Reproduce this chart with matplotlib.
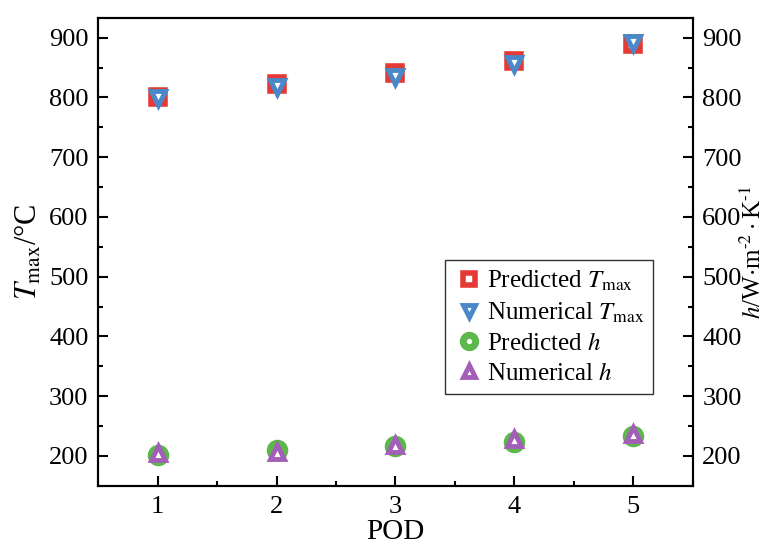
import matplotlib
matplotlib.use('Agg')
import matplotlib.pyplot as plt
from matplotlib.ticker import MultipleLocator

plt.rcParams.update({
    'font.family': 'serif',
    'font.serif': ['Liberation Serif', 'DejaVu Serif'],
    'mathtext.fontset': 'stix',
    'font.size': 19,
})

pod = [1, 2, 3, 4, 5]
t_pred = [800, 822, 841, 861, 890]
t_num = [799, 817, 835, 856, 891]
h_pred = [202, 210, 217, 224, 234]
h_num = [205, 206, 218, 229, 236]

fig, ax = plt.subplots(figsize=(7.67, 5.44), dpi=100)
fig.subplots_adjust(left=0.128, right=0.903, top=0.967, bottom=0.107)

ms, mew = 9.5, 4
ax.plot(pod, t_pred, 's', ms=ms, mew=mew, mfc='white', mec='#e53935',
        label=r'Predicted $T_{\rm max}$')
ax.plot(pod, t_num, 'v', ms=ms, mew=mew - 0.5, mfc='white', mec='#4a88c7',
        label=r'Numerical $T_{\rm max}$')
ax.plot(pod, h_pred, 'o', ms=ms + 1, mew=mew + 1, mfc='white', mec='#5cb84a',
        label=r'Predicted $h$')
ax.plot(pod, h_num, '^', ms=ms, mew=mew - 0.5, mfc='white', mec='#a35fb8',
        label=r'Numerical $h$')

ax.set_xlim(0.5, 5.5)
ax.set_ylim(150, 933)
ax.xaxis.set_major_locator(MultipleLocator(1))
ax.xaxis.set_minor_locator(MultipleLocator(0.5))
ax.yaxis.set_major_locator(MultipleLocator(100))
ax.yaxis.set_minor_locator(MultipleLocator(50))
ax.tick_params(which='both', direction='in', width=1.5)
ax.tick_params(which='major', length=7, pad=7)
ax.tick_params(which='minor', length=3.5)
ax.set_xlabel('POD', fontsize=21, labelpad=1)
ax.set_ylabel(r'$T_{\rm max}$/°C', fontsize=22, labelpad=4)

ax2 = ax.twinx()
ax2.set_ylim(ax.get_ylim())
ax2.yaxis.set_major_locator(MultipleLocator(100))
ax2.yaxis.set_minor_locator(MultipleLocator(50))
ax2.tick_params(which='both', direction='in', width=1.5)
ax2.tick_params(which='major', length=7, pad=7)
ax2.tick_params(which='minor', length=3.5)
ax2.set_ylabel(r'$h$/W$\cdot$m$^{\text{-}2}\cdot$K$^{\text{-}1}$', fontsize=18, labelpad=-1)

for a in (ax, ax2):
    for s in a.spines.values():
        s.set_linewidth(1.5)

leg = ax.legend(loc='lower right', bbox_to_anchor=(0.933, 0.197), frameon=True, fancybox=False,
                edgecolor='black', fontsize=18, handletextpad=0.1, borderpad=0.35,
                labelspacing=0.3, handlelength=1.2, borderaxespad=0, markerscale=0.85)
leg.get_frame().set_linewidth(1.0)

fig.savefig('out.png', dpi=100)
